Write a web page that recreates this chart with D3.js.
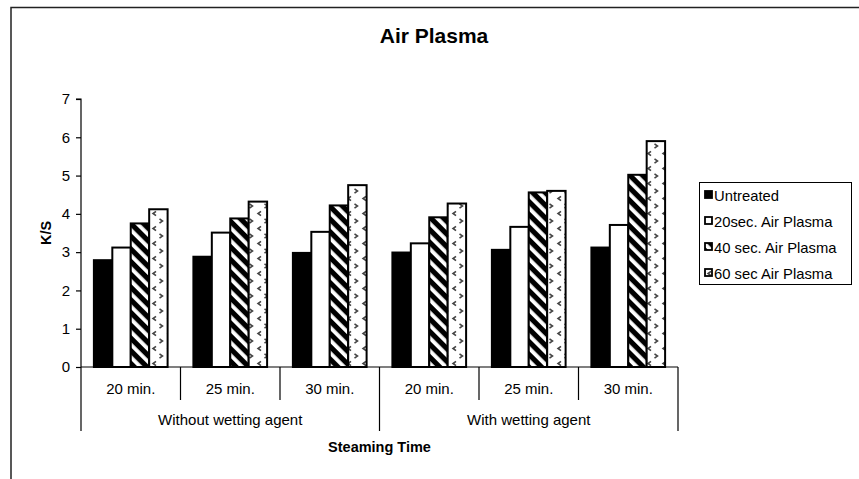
<!DOCTYPE html>
<html>
<head>
<meta charset="utf-8">
<script src="https://cdn.jsdelivr.net/npm/d3@7"></script>
<style>
  html, body { margin: 0; padding: 0; background: #fff; }
  svg { display: block; }
  text { font-family: "Liberation Sans", Arial, sans-serif; fill: #000; }
</style>
</head>
<body>
<svg id="chart" width="859" height="479"></svg>
<script>
// ---- Data ----
const categories = ["20 min.", "25 min.", "30 min.", "20 min.", "25 min.", "30 min."];
const groups = ["Without wetting agent", "With wetting agent"];
const seriesNames = ["Untreated", "20sec. Air Plasma", "40 sec. Air Plasma", "60 sec Air Plasma"];
const untreated = [2.79, 2.88, 2.98, 2.99, 3.06, 3.12];
const sec20 = [3.12, 3.51, 3.53, 3.23, 3.66, 3.71];
const sec40 = [3.75, 3.88, 4.22, 3.91, 4.56, 5.02];
const sec60 = [4.12, 4.32, 4.75, 4.27, 4.60, 5.90];
const yTicks = [0, 1, 2, 3, 4, 5, 6, 7];
const title = "Air Plasma";
const yTitle = "K/S";
const xTitle = "Steaming Time";

const seriesValues = [untreated, sec20, sec40, sec60];

const svg = d3.select("#chart");

// ---- Patterns ----
const defs = svg.append("defs");
const hatch = defs.append("pattern")
  .attr("id", "hatch").attr("patternUnits", "userSpaceOnUse")
  .attr("width", 9).attr("height", 9)
  .attr("patternTransform", "rotate(-45)");
hatch.append("rect").attr("width", 9).attr("height", 9).attr("fill", "#000");
hatch.append("rect").attr("x", 0).attr("width", 3.8).attr("height", 9).attr("fill", "#fff");

const dots = defs.append("pattern")
  .attr("id", "dots").attr("patternUnits", "userSpaceOnUse")
  .attr("width", 15).attr("height", 15);
dots.append("rect").attr("width", 15).attr("height", 15).attr("fill", "#fff");
dots.append("polyline").attr("points", "6,1.3 3,3.5 6,5.7")
  .attr("fill", "none").attr("stroke", "#444").attr("stroke-width", 1.6);
dots.append("polyline").attr("points", "9.5,8.8 12.5,11 9.5,13.2")
  .attr("fill", "none").attr("stroke", "#444").attr("stroke-width", 1.6);

const fills = ["#000", "#fff", "url(#hatch)", "url(#dots)"];

// ---- Outer frame ----
svg.append("rect").attr("x", 11).attr("y", 7.5)
  .attr("width", 900).attr("height", 500)
  .attr("fill", "none").attr("stroke", "#222").attr("stroke-width", 1.5);

// ---- Layout ----
const plot = { left: 81, right: 678, top: 99, bottom: 367 };

const x0 = d3.scaleBand().domain(d3.range(categories.length))
  .range([plot.left, plot.right]).paddingInner(0).paddingOuter(0);
const x1 = d3.scaleBand().domain(d3.range(seriesNames.length))
  .range([0, x0.bandwidth()]).paddingInner(0).paddingOuter(0.7);
const y = d3.scaleLinear().domain([0, 7]).range([plot.bottom, plot.top]);

// ---- Title ----
svg.append("text").attr("x", 434).attr("y", 43)
  .attr("text-anchor", "middle").attr("font-weight", "bold")
  .attr("font-size", "21px").text(title);

// ---- Bars ----
const barG = svg.append("g");
categories.forEach((c, ci) => {
  seriesValues.forEach((vals, si) => {
    barG.append("rect")
      .attr("x", x0(ci) + x1(si))
      .attr("y", y(vals[ci]))
      .attr("width", x1.bandwidth())
      .attr("height", y(0) - y(vals[ci]))
      .attr("fill", fills[si])
      .attr("stroke", "#000")
      .attr("stroke-width", 2);
  });
});

// ---- Y axis ----
const yAxis = d3.axisLeft(y).tickValues(yTicks).tickSize(5).tickPadding(6)
  .tickFormat(d3.format("d"));
const yg = svg.append("g").attr("transform", `translate(${plot.left},0)`).call(yAxis);
yg.select(".domain").attr("stroke", "#000").attr("stroke-width", 1.2).attr("d", `M-5,${plot.top}H0V${plot.bottom}`);
yg.selectAll(".tick line").attr("stroke", "#000").attr("stroke-width", 1.2);
yg.selectAll(".tick text").attr("font-size", "15px")
  .style("font-family", "'Liberation Sans', Arial, sans-serif").attr("fill", "#000");

svg.append("text")
  .attr("transform", `translate(51,${(plot.top + plot.bottom) / 2}) rotate(-90)`)
  .attr("text-anchor", "middle").attr("font-weight", "bold").attr("font-size", "14.5px")
  .text(yTitle);

// ---- X axis (multi-level) ----
const xg = svg.append("g");
xg.append("line").attr("x1", plot.left).attr("x2", plot.right)
  .attr("y1", plot.bottom).attr("y2", plot.bottom)
  .attr("stroke", "#000").attr("stroke-width", 1.2);

const perGroup = categories.length / groups.length;
d3.range(categories.length + 1).forEach(i => {
  const xpos = i < categories.length ? x0(i) : x0(categories.length - 1) + x0.bandwidth();
  const long = i % perGroup === 0;
  xg.append("line").attr("x1", xpos).attr("x2", xpos)
    .attr("y1", plot.bottom).attr("y2", long ? 431 : 400)
    .attr("stroke", "#000").attr("stroke-width", 1.2);
});

categories.forEach((c, i) => {
  xg.append("text").attr("x", x0(i) + x0.bandwidth() / 2).attr("y", 394)
    .attr("text-anchor", "middle").attr("font-size", "15px").text(c);
});
groups.forEach((g, gi) => {
  const start = x0(gi * perGroup);
  const end = x0(gi * perGroup + perGroup - 1) + x0.bandwidth();
  xg.append("text").attr("x", (start + end) / 2).attr("y", 425)
    .attr("text-anchor", "middle").attr("font-size", "15px").text(g);
});

svg.append("text").attr("x", (plot.left + plot.right) / 2).attr("y", 452)
  .attr("text-anchor", "middle").attr("font-weight", "bold").attr("font-size", "14.5px")
  .text(xTitle);

// ---- Legend ----
const lg = svg.append("g");
lg.append("rect").attr("x", 699.5).attr("y", 182.5).attr("width", 152).attr("height", 102)
  .attr("fill", "#fff").attr("stroke", "#000").attr("stroke-width", 1);
seriesNames.forEach((name, i) => {
  const cy = 195 + i * 26;
  lg.append("rect").attr("x", 705).attr("y", cy - 4).attr("width", 7).attr("height", 7)
    .attr("fill", fills[i]).attr("stroke", "#000").attr("stroke-width", 1.8);
  lg.append("text").attr("x", 714).attr("y", cy + 5.5).attr("font-size", "14.8px").text(name);
});
</script>
</body>
</html>
